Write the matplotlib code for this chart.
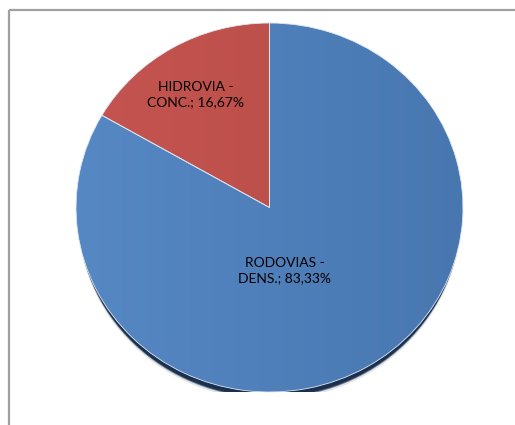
import numpy as np
import matplotlib
matplotlib.use("Agg")
import matplotlib.pyplot as plt
from matplotlib.patches import Rectangle, Ellipse
from matplotlib.colors import LinearSegmentedColormap

categories = ["HIDROVIA -\nCONC.", "RODOVIAS -\nDENS."]
values = [16.67, 83.33]
colors = ["#c0504d", "#4f81bd"]
grad_light = ["#c4544f", "#5688c4"]
grad_dark = ["#b84c48", "#4877b0"]

W, H, DPI = 515, 425, 100
fig = plt.figure(figsize=(W / DPI, H / DPI), dpi=DPI)
fig.patch.set_facecolor("white")

# chart-area frame
bg = fig.add_axes([0, 0, 1, 1])
bg.set_xlim(0, W)
bg.set_ylim(H, 0)
bg.axis("off")
bg.add_patch(Rectangle((8.5, 9.5), 600, 600, fill=False, edgecolor="#a0a0a0", lw=1.6))

# pie bounding box in pixels (slightly elliptical)
left, right, top, bottom = 76, 463, 23, 392
ax = fig.add_axes([left / W, (H - bottom) / H, (right - left) / W, (bottom - top) / H])
ax.set_xlim(-1, 1)
ax.set_ylim(-1, 1)
ax.set_aspect("auto")
ax.axis("off")

# soft drop shadow below the pie
px = 2.0 / (right - left)
py = 2.0 / (bottom - top)
for off, a, col in [(9, 0.25, "#8a94a0"), (7, 0.6, "#2a3d58"), (6, 1.0, "#1c3250"),
                    (4, 1.0, "#1a2f4c")]:
    ax.add_patch(Ellipse((0, -off * py), 2 - 4 * px, 2 - 2 * py, facecolor=col,
                         edgecolor="none", alpha=a, zorder=0))

wedges, _ = ax.pie(values, colors=colors, startangle=90, counterclock=True,
                   radius=1, wedgeprops=dict(edgecolor="#dfe8f2", linewidth=0.6))
for w in wedges:
    w.set_zorder(2)

# horizontal shading across each slice
xs = np.linspace(0, 1, 256)[None, :]
for w, c0, c1 in zip(wedges, grad_light, grad_dark):
    cmap = LinearSegmentedColormap.from_list("g", [c0, c1])
    im = ax.imshow(np.repeat(xs, 2, axis=0), cmap=cmap, extent=(-1, 1, -1, 1),
                   aspect="auto", zorder=2.5, interpolation="bilinear")
    im.set_clip_path(w)
    w.set_facecolor("none")
    w.set_zorder(3)

ax.set_xlim(-1, 1)
ax.set_ylim(-1, 1)

# data labels
label_pos = [(-0.38, 0.61), (0.08, -0.34)]
for name, v, (lx, ly) in zip(categories, values, label_pos):
    pct = f"{v:.2f}".replace(".", ",")
    ax.text(lx, ly, f"{name}; {pct}%", ha="center", va="center", fontsize=10,
            family="Lato", color="#000000", zorder=5, linespacing=1.3)

fig.savefig("out.png", dpi=DPI, facecolor="white")
